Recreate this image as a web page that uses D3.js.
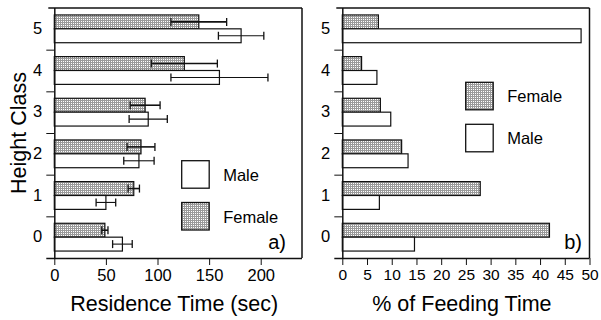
<!DOCTYPE html>
<html><head><meta charset="utf-8">
<script src="https://cdn.jsdelivr.net/npm/d3@7/dist/d3.min.js"></script>
<style>
html,body{margin:0;padding:0;background:#fff;}
svg text{font-family:Arial,"Liberation Sans",Helvetica,sans-serif;fill:#000;}
</style></head>
<body><svg id="c" width="601" height="320"></svg>
<script>
const heightClasses = [5,4,3,2,1,0];
const sexes = ["Female","Male"];
// Panel a: Residence time (sec), mean and error
const resFemale    = [140, 126, 88, 84, 77, 49];
const resFemaleErr = [27, 32, 14.5, 13.5, 5.5, 3];
const resMale      = [181, 160, 91, 82, 50, 66];
const resMaleErr   = [22, 47, 18.5, 14.7, 9.5, 9.5];
// Panel b: % of feeding time
const feedFemale = [7.3, 3.9, 7.7, 12.0, 27.9, 41.9];
const feedMale   = [48.3, 7.0, 9.8, 13.3, 7.5, 14.6];
const ticksA = [0,50,100,150,200];
const ticksB = [0,5,10,15,20,25,30,35,40,45,50];

const svg = d3.select("#c");
const defs = svg.append("defs");
const pat = defs.append("pattern").attr("id","hatch").attr("patternUnits","userSpaceOnUse")
  .attr("width",2).attr("height",2);
pat.append("rect").attr("width",2).attr("height",2).attr("fill","#ffffff");
pat.append("rect").attr("width",2).attr("height",1).attr("fill","#9a9a9a");
pat.append("rect").attr("width",1).attr("height",2).attr("fill","#9a9a9a");

const yTop = 8, yBot = 258;
const y = d3.scaleBand().domain(heightClasses).range([yTop,yBot]);
const yb = d3.scaleLinear().domain([0,6]).range([yBot,yTop]);
const sub = d3.scaleBand().domain(sexes).range([0,y.bandwidth()]).paddingOuter(0.5);

function panel(x0,x1,domainMax,ticks,fem,mal,femErr,malErr,title,label,labelX,legend){
  const g = svg.append("g");
  const x = d3.scaleLinear().domain([0,domainMax]).range([x0,x1]);
  const rows = heightClasses.map((h,i)=>({h, f:fem[i], m:mal[i], fe:femErr?femErr[i]:null, me:malErr?malErr[i]:null}));
  rows.forEach(r=>{
    g.append("rect").attr("x",x(0)).attr("y",y(r.h)+sub("Female"))
      .attr("width",x(r.f)-x(0)).attr("height",sub.bandwidth())
      .attr("fill","url(#hatch)").attr("stroke","#111").attr("stroke-width",1.2);
    g.append("rect").attr("x",x(0)).attr("y",y(r.h)+sub("Male"))
      .attr("width",x(r.m)-x(0)).attr("height",sub.bandwidth())
      .attr("fill","#fff").attr("stroke","#111").attr("stroke-width",1.2);
    if(r.fe!==null){
      [["Female",r.f,r.fe],["Male",r.m,r.me]].forEach(([s,v,e])=>{
        const cy = y(r.h)+sub(s)+sub.bandwidth()/2;
        g.append("line").attr("x1",x(v-e)).attr("x2",x(v+e)).attr("y1",cy).attr("y2",cy)
          .attr("stroke","#111").attr("stroke-width",s==="Female"?1.6:1.1);
        [v-e,v+e].forEach(xx=>g.append("line").attr("x1",x(xx)).attr("x2",x(xx))
          .attr("y1",cy-4).attr("y2",cy+4).attr("stroke","#111").attr("stroke-width",1.3));
      });
    }
  });
  g.append("line").attr("x1",x0-6).attr("x2",x1).attr("y1",yTop).attr("y2",yTop).attr("stroke","#111").attr("stroke-width",1.5);
  g.append("line").attr("x1",x1).attr("x2",x1).attr("y1",yTop).attr("y2",yBot).attr("stroke","#111").attr("stroke-width",1.5);
  const xa = g.append("g").attr("transform",`translate(0,${yBot})`)
    .call(d3.axisBottom(x).tickValues(ticks).tickSize(7).tickSizeOuter(0).tickPadding(4));
  xa.select(".domain").attr("d",`M${x0-8},0.5H${x1}`).attr("stroke","#111").attr("stroke-width",1.5);
  xa.selectAll(".tick line").attr("stroke","#111").attr("stroke-width",1);
  xa.selectAll("text").attr("font-size",domainMax>100?16.5:15.5);
  const ya = g.append("g").attr("transform",`translate(${x0},0)`)
    .call(d3.axisLeft(yb).tickValues([1,2,3,4,5]).tickSize(8).tickFormat("").tickSizeOuter(0));
  ya.select(".domain").attr("d",`M0.5,${yTop}V${yBot+1}`).attr("stroke","#111").attr("stroke-width",1.5);
  ya.selectAll(".tick line").attr("stroke","#111");
  const yl = g.append("g").attr("transform",`translate(${x0-10},0)`)
    .call(d3.axisLeft(y).tickSize(0).tickPadding(2));
  yl.select(".domain").remove();
  yl.selectAll("text").attr("font-size",16.5);
  g.append("text").attr("x",(x0+x1)/2-4).attr("y",311).attr("text-anchor","middle")
    .attr("font-size",21.5).text(title);
  g.append("text").attr("x",labelX).attr("y",249).attr("text-anchor","end")
    .attr("font-size",20).text(label);
  legend.forEach(l=>{
    g.append("rect").attr("x",l.x).attr("y",l.y).attr("width",27.5).attr("height",27.5)
      .attr("fill",l.s==="Female"?"url(#hatch)":"#fff").attr("stroke","#111").attr("stroke-width",1.3);
    g.append("text").attr("x",l.x+41.5).attr("y",l.y+20).attr("font-size",16.5).text(l.s);
  });
}

panel(54.3,302,240,ticksA,resFemale,resMale,resFemaleErr,resMaleErr,
  "Residence Time (sec)","a)",286,[{s:"Male",x:181.7,y:160.7},{s:"Female",x:181.7,y:202.5}]);
panel(342.3,589.5,50,ticksB,feedFemale,feedMale,null,null,
  "% of Feeding Time","b)",582,[{s:"Female",x:465.7,y:82.3},{s:"Male",x:465.7,y:124.3}]);

svg.append("text").attr("transform","translate(26,133) rotate(-90)").attr("text-anchor","middle")
  .attr("font-size",21.5).text("Height Class");
</script></body></html>
